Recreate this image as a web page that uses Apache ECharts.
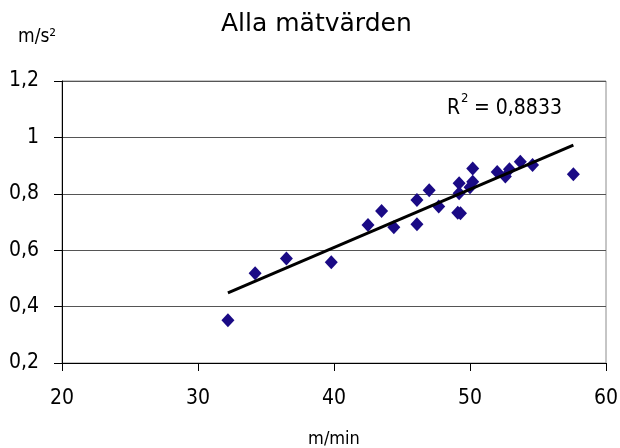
<!DOCTYPE html>
<html>
<head>
<meta charset="utf-8">
<script src="https://cdn.jsdelivr.net/npm/echarts@6/dist/echarts.min.js"></script>
<style>html,body{margin:0;padding:0;background:#fff;}#c{width:620px;height:448px;}</style>
</head>
<body>
<div id="c"></div>
<script>
var title = 'Alla mätvärden';
var yUnit = 'm/s²';
var xUnit = 'm/min';
var rLabel = '= 0,8833';
var speedValues = [32.2, 34.2, 36.5, 39.8, 42.5, 43.5, 44.4, 46.1, 46.1, 47.0, 47.7, 49.1, 49.3, 49.2, 49.2, 50.0, 50.2, 50.2, 52.0, 52.6, 52.9, 53.7, 54.6, 57.6];
var accelValues = [0.352, 0.518, 0.571, 0.557, 0.689, 0.739, 0.681, 0.778, 0.692, 0.813, 0.755, 0.733, 0.731, 0.837, 0.802, 0.823, 0.890, 0.843, 0.877, 0.861, 0.887, 0.914, 0.902, 0.869];
var trendX = [32.2, 57.6];
var trendY = [0.449, 0.973];
var xTicks = [20, 30, 40, 50, 60];
var yTicks = [0.2, 0.4, 0.6, 0.8, 1, 1.2];

var points = speedValues.map(function (x, i) { return [x, accelValues[i]]; });
var trend = trendX.map(function (x, i) { return [x, trendY[i]]; });
var numFont = 'DejaVu Sans Condensed';

var chart = echarts.init(document.getElementById('c'), null, { renderer: 'canvas' });
chart.setOption({
  animation: false,
  backgroundColor: '#fff',
  title: {
    text: title, left: 216, top: 7,
    textStyle: { fontFamily: 'DejaVu Sans', fontSize: 25, fontWeight: 'normal', color: '#000' }
  },
  grid: {
    left: 62, right: 14, top: 81, bottom: 85, containLabel: false, outerBoundsMode: 'none',
    show: true, borderColor: '#8c8c8c', borderWidth: 1, backgroundColor: '#fff'
  },
  xAxis: {
    type: 'value', min: xTicks[0], max: xTicks[xTicks.length - 1], interval: 10,
    name: xUnit, nameLocation: 'middle', nameGap: 67,
    nameTextStyle: { fontFamily: numFont, fontSize: 18, color: '#000' },
    axisLine: { show: true, lineStyle: { color: '#000', width: 1 } },
    axisTick: { show: true, length: 8, lineStyle: { color: '#000' } },
    axisLabel: { fontFamily: numFont, fontSize: 21, color: '#000', margin: 25 },
    splitLine: { show: false }
  },
  yAxis: {
    type: 'value', min: yTicks[0], max: yTicks[yTicks.length - 1], interval: 0.2,
    axisLine: { show: true, lineStyle: { color: '#000', width: 1 } },
    axisTick: { show: true, length: 8, lineStyle: { color: '#000' } },
    axisLabel: {
      fontFamily: numFont, fontSize: 21, color: '#000', margin: 23,
      formatter: function (v) { return String(Math.round(v * 10) / 10).replace('.', ','); }
    },
    splitLine: { show: true, lineStyle: { color: '#555', width: 1 } }
  },
  graphic: [
    { type: 'text', left: 18, top: 28, style: { text: yUnit, fontFamily: numFont, fontSize: 19, fill: '#000' } },
    { type: 'text', left: 447, top: 98, style: { text: 'R', fontFamily: numFont, fontSize: 21, fill: '#000' } },
    { type: 'text', left: 461, top: 92, style: { text: '2', fontFamily: numFont, fontSize: 13, fill: '#000' } },
    { type: 'text', left: 474, top: 98, style: { text: rLabel, fontFamily: numFont, fontSize: 21, fill: '#000' } }
  ],
  series: [
    {
      type: 'scatter', data: points, symbol: 'diamond', symbolSize: [13, 14],
      itemStyle: { color: '#1a0a85', opacity: 1 }, z: 3
    },
    {
      type: 'line', data: trend, symbol: 'none', lineStyle: { color: '#000', width: 3 }, z: 4
    }
  ]
});
</script>
</body>
</html>
